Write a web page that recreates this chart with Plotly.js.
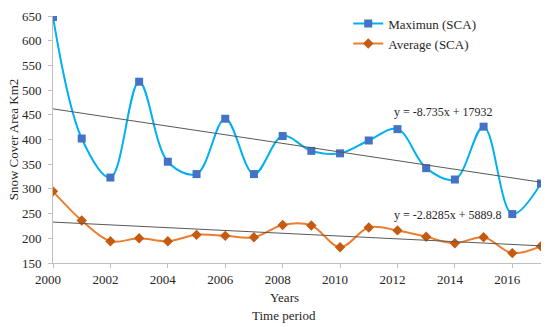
<!DOCTYPE html>
<html><head><meta charset="utf-8">
<script src="https://cdn.plot.ly/plotly-3.0.1.min.js"></script>
<style>body{margin:0;background:#fff}#chart{width:550px;height:327px}</style>
</head><body><div id="chart"></div>
<script>
const years = [2000,2001,2002,2003,2004,2005,2006,2007,2008,2009,2010,2011,2012,2013,2014,2015,2016,2017];
const maximumSCA = [648,402,323,517,355,330,442,330,407,377,372,398,421,342,319,426,249,311];
const averageSCA = [295,236,194,200,194,207,205,202,227,226,182,222,216,203,190,202,170,184];
const trendMax = {slope:-8.735, intercept:17932, label:'y = -8.735x + 17932'};
const trendAvg = {slope:-2.8285, intercept:5889.8, label:'y = -2.8285x + 5889.8'};
const yTicks = [150,200,250,300,350,400,450,500,550,600,650];
const xTicks = [2000,2002,2004,2006,2008,2010,2012,2014,2016];

const ends = [years[0], years[years.length-1]];
const lineOf = t => ends.map(x => t.slope*x + t.intercept);
const FONT = 'Liberation Serif, DejaVu Serif, serif';
const FS = 13;
const TXT = '#262626';

const traces = [
  {x:years, y:maximumSCA, name:'Maximun (SCA)', type:'scatter', mode:'lines+markers',
   line:{color:'#00B0F0', width:2, shape:'spline', smoothing:1},
   marker:{symbol:'square', size:8, color:'#4472C4'}},
  {x:years, y:averageSCA, name:'Average (SCA)', type:'scatter', mode:'lines+markers',
   line:{color:'#ED7D31', width:2, shape:'spline', smoothing:1},
   marker:{symbol:'diamond', size:8, color:'#C55A11'}},
  {x:ends, y:lineOf(trendMax), mode:'lines', showlegend:false, hoverinfo:'skip',
   line:{color:'#595959', width:1}},
  {x:ends, y:lineOf(trendAvg), mode:'lines', showlegend:false, hoverinfo:'skip',
   line:{color:'#595959', width:1}}
];

const plotW = 550-53-9, plotH = 327-12-64;
const layout = {
  width:550, height:327,
  margin:{l:53, r:9, t:12, b:64},
  paper_bgcolor:'#fff', plot_bgcolor:'#fff',
  font:{family:FONT, size:FS, color:TXT},
  showlegend:true,
  legend:{x:0.605, y:1.03, xanchor:'left', yanchor:'top', bgcolor:'rgba(0,0,0,0)',
          font:{family:FONT, size:FS, color:TXT}, tracegroupgap:0, itemwidth:30},
  xaxis:{range:[2000,2017], tickvals:xTicks, ticktext:xTicks.map(String),
         showgrid:false, zeroline:false, showline:true, linecolor:'#bfbfbf', linewidth:1,
         ticks:'outside', ticklen:4, tickcolor:'#bfbfbf', ticklabelshift:-5,
         tickfont:{family:FONT, size:FS, color:TXT}},
  yaxis:{range:[150,650], tickvals:yTicks, showgrid:false, zeroline:false,
         showline:true, linecolor:'#bfbfbf', linewidth:1,
         ticks:'outside', ticklen:4, tickcolor:'#bfbfbf', ticklabelstandoff:4,
         tickfont:{family:FONT, size:FS, color:TXT},
         title:{text:'Snow Cover Area Km2', font:{family:FONT, size:FS, color:TXT}, standoff:0}},
  annotations:[
    {text:trendMax.label, x:2011.8, y:455, xref:'x', yref:'y', xanchor:'left', showarrow:false,
     font:{family:FONT, size:12, color:TXT}},
    {text:trendAvg.label, x:2011.8, y:247, xref:'x', yref:'y', xanchor:'left', showarrow:false,
     font:{family:FONT, size:12, color:TXT}},
    {text:'Years', xref:'paper', yref:'paper', x:(284-53)/plotW, y:-(298-263)/plotH,
     yanchor:'middle', showarrow:false, font:{family:FONT, size:FS, color:TXT}},
    {text:'Time period', xref:'paper', yref:'paper', x:(284-53)/plotW, y:-(316-263)/plotH,
     yanchor:'middle', showarrow:false, font:{family:FONT, size:FS, color:TXT}}
  ]
};
Plotly.newPlot('chart', traces, layout, {displayModeBar:false, staticPlot:true});
</script></body></html>
